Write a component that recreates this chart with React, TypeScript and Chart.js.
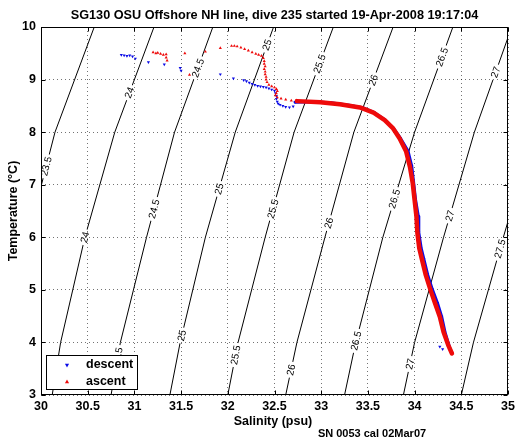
import React, { useEffect, useRef } from 'react';
import { Chart, registerables } from 'chart.js';

Chart.register(...registerables);

const FONT = '"Liberation Sans", Arial, Helvetica, sans-serif';

// ---------- text ----------
const titleText = 'SG130 OSU Offshore NH line, dive 235 started 19-Apr-2008 19:17:04';
const xTitle = 'Salinity (psu)';
const yTitle = 'Temperature (\u00B0C)';
const footnote = 'SN 0053 cal 02Mar07';
const seriesNames = ['descent', 'ascent'];

// ---------- axes ----------
const salinityRange = [30, 35];
const salinityStep = 0.5;
const temperatureRange = [3, 10];
const temperatureStep = 1;

// ---------- sigma-theta contours (salinity read at each temperature) ----------
const contourLevels = [23.5, 24, 24.5, 25, 25.5, 26, 26.5, 27, 27.5];
const contourTemps = [3, 4, 6, 8, 10];
const contour235 = [29.52, 29.6, 29.86, 30.15, 30.57];
const contour240 = [30.12, 30.21, 30.47, 30.79, 31.21];
const contour245 = [30.75, 30.85, 31.13, 31.43, 31.84];
const contour250 = [31.38, 31.49, 31.76, 32.08, 32.49];
const contour255 = [32.0, 32.11, 32.4, 32.71, 33.13];
const contour260 = [32.62, 32.74, 33.04, 33.35, 33.77];
const contour265 = [33.25, 33.37, 33.66, 34.0, 34.41];
const contour270 = [33.88, 34.0, 34.31, 34.64, 35.04];
const contour275 = [34.5, 34.63, 34.95, 35.28, 35.7];
const contourS = [contour235, contour240, contour245, contour250, contour255, contour260, contour265, contour270, contour275];
// temperatures at which each contour carries an inline label
const contourLabelT = [
  [7.35], [8.75, 6.0], [9.22, 6.54, 3.72], [9.66, 6.92, 4.13], [9.3, 6.54, 3.76],
  [8.99, 6.27, 3.48], [9.43, 6.73, 4.03], [9.14, 6.41, 3.59], [5.78],
];

// ---------- descent (blue) ----------
const descentScatterS = [30.86, 30.89, 30.92, 30.95, 30.98, 31.01, 31.15, 31.32, 31.49, 31.5, 31.92, 32.06,
  32.17, 32.2, 32.23, 32.26, 32.29, 32.32, 32.35, 32.38, 32.41, 32.44, 32.47, 32.5,
  32.51, 32.52, 32.52, 32.53, 32.54, 32.56, 32.59, 32.62, 32.66, 32.7, 34.27, 34.3];
const descentScatterT = [9.47, 9.46, 9.45, 9.46, 9.44, 9.4, 9.33, 9.29, 9.22, 9.17, 9.1, 9.02,
  8.99, 8.97, 8.94, 8.92, 8.9, 8.88, 8.87, 8.86, 8.85, 8.83, 8.81, 8.79,
  8.74, 8.69, 8.63, 8.58, 8.54, 8.52, 8.5, 8.48, 8.47, 8.49, 3.92, 3.87];
const descentMainS = [32.72, 32.9, 33.1, 33.3, 33.45, 33.57, 33.685, 33.775, 33.85, 33.93, 33.97, 33.99,
  34.01, 34.04, 34.045, 34.07, 34.1, 34.14, 34.19, 34.245, 34.29, 34.325, 34.365, 34.39];
const descentMainT = [8.57, 8.58, 8.56, 8.51, 8.46, 8.37, 8.23, 8.07, 7.88, 7.64, 7.35, 7.04,
  6.72, 6.4, 6.09, 5.8, 5.58, 5.29, 5.01, 4.75, 4.49, 4.2, 3.96, 3.82];

// ---------- ascent (red) ----------
const ascentScatterS = [31.2, 31.23, 31.25, 31.28, 31.31, 31.34, 31.34, 31.35, 31.54, 31.59, 31.76, 31.92,
  32.04, 32.07, 32.1, 32.14, 32.18, 32.22, 32.26, 32.3, 32.33, 32.36, 32.38,
  32.39, 32.39, 32.4, 32.39, 32.4, 32.4, 32.41, 32.41, 32.42, 32.44, 32.47, 32.5,
  32.52, 32.53, 32.52, 32.51, 32.53, 32.57, 32.62, 32.68];
const ascentScatterT = [9.52, 9.5, 9.51, 9.49, 9.47, 9.48, 9.42, 9.36, 9.5, 9.09, 9.53, 9.6,
  9.64, 9.64, 9.63, 9.61, 9.58, 9.55, 9.52, 9.49, 9.47, 9.45, 9.41,
  9.35, 9.3, 9.25, 9.2, 9.15, 9.1, 9.05, 9.0, 8.95, 8.9, 8.87, 8.85,
  8.82, 8.78, 8.74, 8.7, 8.66, 8.64, 8.62, 8.6];
const ascentMainS = [32.74, 32.99, 33.2, 33.415, 33.56, 33.68, 33.77, 33.84, 33.91, 33.95, 33.98, 34.0,
  34.02, 34.03, 34.05, 34.08, 34.12, 34.17, 34.22, 34.27, 34.31, 34.36, 34.4];
const ascentMainT = [8.59, 8.57, 8.53, 8.47, 8.37, 8.23, 8.07, 7.88, 7.63, 7.34, 7.03, 6.71,
  6.39, 6.08, 5.79, 5.57, 5.28, 5.0, 4.74, 4.49, 4.2, 3.95, 3.79];

const BLUE = '#0a0ae6';
const RED = '#ee0a0a';

const zip = (xs: number[], ys: number[]) => xs.map((x, i) => ({ x, y: ys[i] }));

function interpS(ci: number, T: number): number {
  const S = contourS[ci];
  const Ts = contourTemps;
  let k = 0;
  while (k < Ts.length - 2 && T > Ts[k + 1]) k++;
  const f = (T - Ts[k]) / (Ts[k + 1] - Ts[k]);
  return S[k] + f * (S[k + 1] - S[k]);
}

function fmtLevel(v: number) {
  return String(v);
}

function labelGeom(chart: any, ci: number, T: number) {
  const xs = chart.scales.x;
  const ys = chart.scales.y;
  const px = xs.getPixelForValue(interpS(ci, T));
  const py = ys.getPixelForValue(T);
  const x1 = xs.getPixelForValue(interpS(ci, T - 0.2));
  const y1 = ys.getPixelForValue(T - 0.2);
  const x2 = xs.getPixelForValue(interpS(ci, T + 0.2));
  const y2 = ys.getPixelForValue(T + 0.2);
  return { px, py, ang: Math.atan2(y2 - y1, x2 - x1) };
}

const LABEL_FONT = `10px ${FONT}`;

const contourPlugin = {
  id: 'contourLabels',
  beforeDatasetDraw(chart: any, args: any) {
    const ds = chart.data.datasets[args.index];
    if (ds.contourIndex === undefined) return;
    const ci = ds.contourIndex;
    const ctx = chart.ctx;
    ctx.save();
    ctx.font = LABEL_FONT;
    ctx.beginPath();
    ctx.rect(0, 0, chart.width, chart.height);
    const text = fmtLevel(contourLevels[ci]);
    const w = ctx.measureText(text).width + 5;
    const h = 10;
    for (const T of contourLabelT[ci]) {
      const g = labelGeom(chart, ci, T);
      const c = Math.cos(g.ang);
      const s = Math.sin(g.ang);
      const pts = [[-w / 2, -h / 2], [w / 2, -h / 2], [w / 2, h / 2], [-w / 2, h / 2]].map(([u, v]) => [
        g.px + u * c - v * s,
        g.py + u * s + v * c,
      ]);
      ctx.moveTo(pts[0][0], pts[0][1]);
      for (let i = 1; i < 4; i++) ctx.lineTo(pts[i][0], pts[i][1]);
      ctx.closePath();
    }
    ctx.clip('evenodd');
  },
  afterDatasetDraw(chart: any, args: any) {
    const ds = chart.data.datasets[args.index];
    if (ds.contourIndex === undefined) return;
    const ci = ds.contourIndex;
    const ctx = chart.ctx;
    ctx.restore();
    const a = chart.chartArea;
    ctx.save();
    ctx.beginPath();
    ctx.rect(a.left, a.top, a.right - a.left, a.bottom - a.top);
    ctx.clip();
    ctx.font = LABEL_FONT;
    ctx.fillStyle = '#000';
    ctx.textAlign = 'center';
    ctx.textBaseline = 'middle';
    const text = fmtLevel(contourLevels[ci]);
    for (const T of contourLabelT[ci]) {
      const g = labelGeom(chart, ci, T);
      ctx.save();
      ctx.translate(g.px, g.py);
      ctx.rotate(g.ang);
      ctx.fillText(text, 0, 0.5);
      ctx.restore();
    }
    ctx.restore();
  },
};

function tri(ctx: CanvasRenderingContext2D, x: number, y: number, r: number, down: boolean, color: string) {
  ctx.fillStyle = color;
  ctx.beginPath();
  const d = down ? -1 : 1;
  ctx.moveTo(x, y - d * r);
  ctx.lineTo(x + r * 0.866, y + d * r * 0.5);
  ctx.lineTo(x - r * 0.866, y + d * r * 0.5);
  ctx.closePath();
  ctx.fill();
}

const framePlugin = {
  id: 'frame',
  afterDatasetsDraw(chart: any) {
    const ctx = chart.ctx;
    const a = chart.chartArea;
    const xs = chart.scales.x;
    const ys = chart.scales.y;
    ctx.save();
    ctx.strokeStyle = '#000';
    ctx.lineWidth = 1;
    const L = Math.round(a.left) + 0.5;
    const R = Math.round(a.right) - 0.5;
    const Tp = Math.round(a.top) + 0.5;
    const B = Math.round(a.bottom) - 0.5;
    ctx.strokeRect(L, Tp, R - L, B - Tp);
    const tl = 4;
    ctx.beginPath();
    for (let v = salinityRange[0]; v <= salinityRange[1] + 1e-9; v += salinityStep) {
      const x = Math.round(xs.getPixelForValue(v)) + 0.5;
      ctx.moveTo(x, B);
      ctx.lineTo(x, B - tl);
      ctx.moveTo(x, Tp);
      ctx.lineTo(x, Tp + tl);
    }
    for (let v = temperatureRange[0]; v <= temperatureRange[1] + 1e-9; v += temperatureStep) {
      const y = Math.round(ys.getPixelForValue(v)) + 0.5;
      ctx.moveTo(L, y);
      ctx.lineTo(L + tl, y);
      ctx.moveTo(R, y);
      ctx.lineTo(R - tl, y);
    }
    ctx.stroke();
    ctx.restore();
  },
  afterDraw(chart: any) {
    const ctx = chart.ctx;
    const a = chart.chartArea;
    ctx.save();
    // legend
    const lx = a.left + 5;
    const ly = a.bottom - 40;
    const lw = 91;
    const lh = 34;
    ctx.fillStyle = '#fff';
    ctx.fillRect(lx, ly, lw, lh);
    ctx.strokeStyle = '#000';
    ctx.lineWidth = 1;
    ctx.strokeRect(lx + 0.5, ly + 0.5, lw, lh);
    tri(ctx, lx + 21, ly + 10, 2.4, true, BLUE);
    tri(ctx, lx + 21, ly + 27, 2.4, false, RED);
    ctx.fillStyle = '#000';
    ctx.font = `bold 12.5px ${FONT}`;
    ctx.textAlign = 'left';
    ctx.textBaseline = 'middle';
    ctx.fillText(seriesNames[0], lx + 40, ly + 10);
    ctx.fillText(seriesNames[1], lx + 40, ly + 26.5);

    // titles
    const cx = (a.left + a.right) / 2;
    ctx.textAlign = 'center';
    ctx.textBaseline = 'alphabetic';
    ctx.font = `bold 12.7px ${FONT}`;
    ctx.fillText(titleText, cx, 19);
    ctx.font = `bold 12.5px ${FONT}`;
    ctx.fillText(xTitle, cx - 1.5, 425);
    ctx.font = `bold 11px ${FONT}`;
    ctx.fillText(footnote, 372, 436.5);
    ctx.save();
    ctx.translate(17, (a.top + a.bottom) / 2);
    ctx.rotate(-Math.PI / 2);
    ctx.font = `bold 12.5px ${FONT}`;
    ctx.fillText(yTitle, 0, 0);
    ctx.restore();
    ctx.restore();
  },
};

export default function App() {
  const ref = useRef<HTMLCanvasElement | null>(null);
  useEffect(() => {
    if (!ref.current) return;
    const contourSets = contourLevels.map((lev, ci) => ({
      label: `sigma ${lev}`,
      contourIndex: ci,
      data: zip(contourS[ci], contourTemps),
      showLine: true,
      borderColor: '#000',
      borderWidth: 1,
      pointRadius: 0,
      pointHoverRadius: 0,
      tension: 0,
      order: 10,
    }));
    const pointCommon = {
      pointRadius: 1.8,
      pointHoverRadius: 1.8,
      pointBorderWidth: 0,
      pointStyle: 'triangle',
    };
    const chart = new Chart(ref.current, {
      type: 'scatter',
      data: {
        datasets: [
          {
            label: seriesNames[1],
            data: zip(ascentMainS, ascentMainT),
            showLine: true,
            borderColor: RED,
            backgroundColor: RED,
            borderWidth: 4.5,
            borderJoinStyle: 'round',
            borderCapStyle: 'round',
            ...pointCommon,
            order: 0,
          } as any,
          {
            label: seriesNames[1] + ' scatter',
            data: zip(ascentScatterS, ascentScatterT),
            showLine: false,
            borderColor: RED,
            backgroundColor: RED,
            ...pointCommon,
            order: 1,
          } as any,
          {
            label: seriesNames[0],
            data: zip(descentMainS, descentMainT),
            showLine: true,
            borderColor: BLUE,
            backgroundColor: BLUE,
            borderWidth: 3,
            borderJoinStyle: 'round',
            borderCapStyle: 'round',
            ...pointCommon,
            pointRotation: 180,
            order: 2,
          } as any,
          {
            label: seriesNames[0] + ' scatter',
            data: zip(descentScatterS, descentScatterT),
            showLine: false,
            borderColor: BLUE,
            backgroundColor: BLUE,
            ...pointCommon,
            pointRotation: 180,
            order: 3,
          } as any,
          ...(contourSets as any[]),
        ],
      },
      options: {
        animation: false,
        responsive: false,
        devicePixelRatio: 1,
        events: [],
        layout: { padding: { left: 0, top: 27, right: 11, bottom: 0 } },
        plugins: {
          legend: { display: false },
          title: { display: false },
          tooltip: { enabled: false },
        },
        scales: {
          x: {
            type: 'linear',
            min: salinityRange[0],
            max: salinityRange[1],
            afterFit: (s: any) => {
              s.height = 47;
            },
            ticks: {
              stepSize: salinityStep,
              color: '#000',
              padding: 4,
              maxRotation: 0,
              autoSkip: false,
              callback: (v: any) => String(Math.round(Number(v) * 10) / 10),
              font: { family: FONT, size: 12.5, weight: 'bold' },
            },
            grid: { color: 'rgba(0,0,0,0.55)', lineWidth: 1, drawTicks: false },
            border: { display: false, dash: [1, 3] },
          },
          y: {
            type: 'linear',
            min: temperatureRange[0],
            max: temperatureRange[1],
            afterFit: (s: any) => {
              s.width = 41;
            },
            ticks: {
              stepSize: temperatureStep,
              color: '#000',
              padding: 5,
              autoSkip: false,
              callback: (v: any) => String(Math.round(Number(v) * 10) / 10),
              font: { family: FONT, size: 12.5, weight: 'bold' },
            },
            grid: { color: 'rgba(0,0,0,0.55)', lineWidth: 1, drawTicks: false },
            border: { display: false, dash: [1, 3] },
          },
        },
      } as any,
      plugins: [contourPlugin, framePlugin],
    });
    return () => chart.destroy();
  }, []);
  return (
    <div style={{ position: 'absolute', left: 0, top: 0, width: 519, height: 442, background: '#fff' }}>
      <canvas ref={ref} width={519} height={442} style={{ display: 'block' }} />
    </div>
  );
}
